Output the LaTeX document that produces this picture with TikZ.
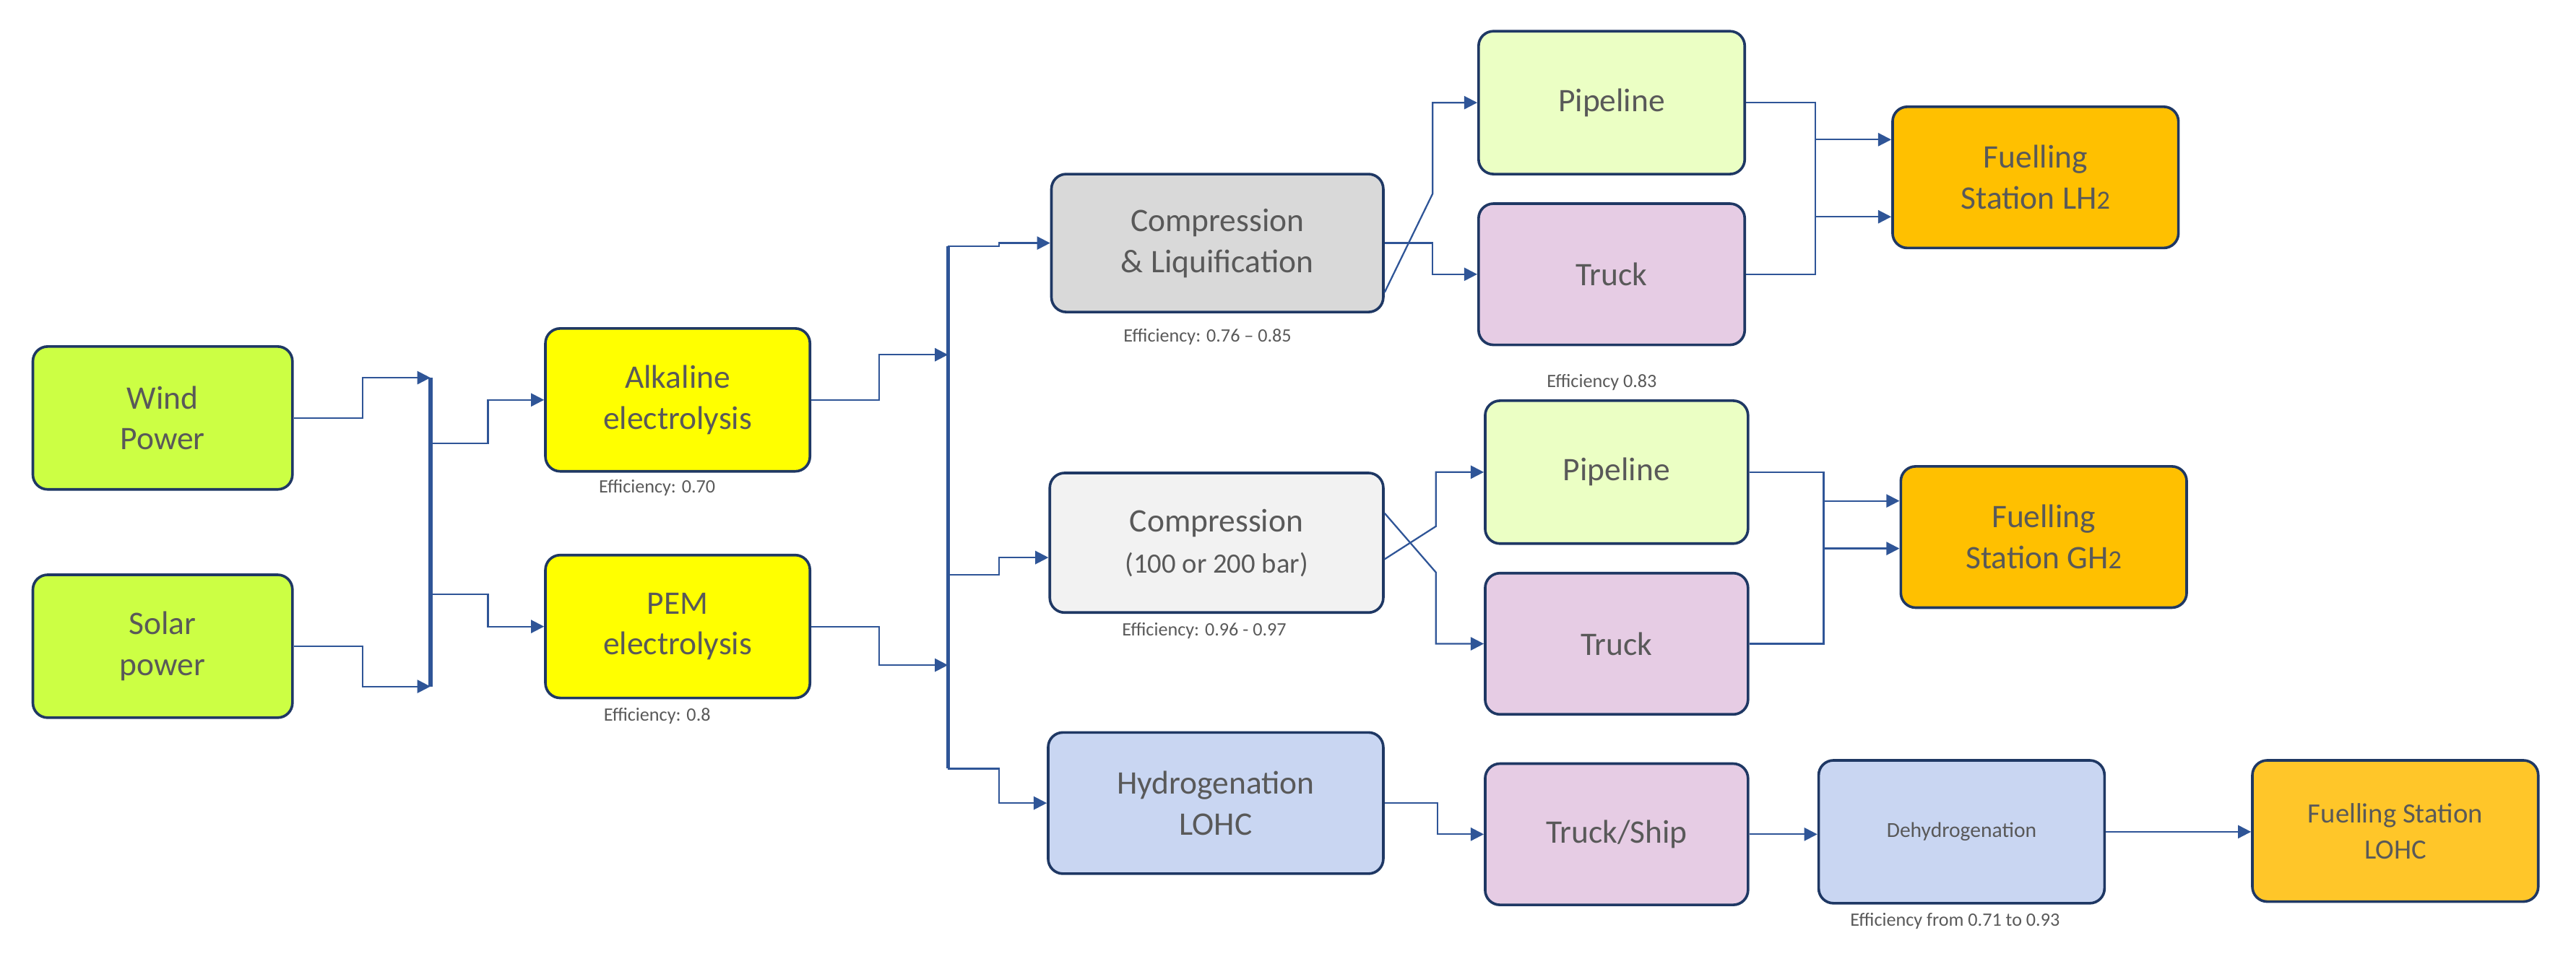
\documentclass[tikz,border=0pt]{standalone}
\usepackage{fontspec}
\setmainfont{Carlito}
\usetikzlibrary{arrows.meta}
\definecolor{bd}{HTML}{1F3864}
\definecolor{ln}{HTML}{2F5597}
\definecolor{tx}{HTML}{595959}
\begin{document}
\begin{tikzpicture}[x=1pt,y=-1pt,
  box/.style={draw=bd,line width=1.6pt,rounded corners=9pt,text=tx,align=center,font=\fontsize{20}{25}\selectfont,inner sep=0pt},
  eff/.style={text=tx,font=\fontsize{11.5}{13}\selectfont,anchor=center},
  c/.style={ln,line width=1pt,-{Triangle[length=8pt,width=8pt]}},
  cl/.style={ln,line width=1pt},
  bus/.style={ln,line width=2.4pt}]
\useasboundingbox (0,0) rectangle (1568,587);
\newcommand{\bx}[7]{\node[box,fill=#6,minimum width=#4pt,minimum height=#5pt] (#1) at (#2,#3) {#7};}
\definecolor{gr}{HTML}{CCFF44}
\definecolor{ye}{HTML}{FFFF00}
\definecolor{g1}{HTML}{D9D9D9}
\definecolor{g2}{HTML}{F2F2F2}
\definecolor{bl}{HTML}{C9D6F2}
\definecolor{pg}{HTML}{EBFFC4}
\definecolor{pk}{HTML}{E6CCE4}
\definecolor{or}{HTML}{FFC000}
\definecolor{o2}{HTML}{FFC629}
\bx{wind}{99}{254.5}{158}{87}{gr}{Wind\\Power}
\bx{solar}{99}{393.5}{158}{87}{gr}{Solar\\power}
\bx{alk}{412.5}{243.5}{161}{87}{ye}{Alkaline\\electrolysis}
\bx{pem}{412.5}{381.5}{161}{87}{ye}{PEM\\electrolysis}
\bx{cl}{741}{148}{202}{84}{g1}{Compression\\\& Liquification}
\bx{cp}{740.5}{330.5}{203}{85}{g2}{Compression\\{\fontsize{17}{25}\selectfont(100 or 200 bar)}}
\bx{hy}{740}{489}{204}{86}{bl}{Hydrogenation\\LOHC}
\bx{p1}{981}{62.5}{162}{87}{pg}{Pipeline}
\bx{t1}{981}{167}{162}{86}{pk}{Truck}
\bx{f1}{1239}{108}{174}{86}{or}{Fuelling\\Station LH{\fontsize{16}{20}\selectfont 2}}
\bx{p2}{984}{287.5}{160}{87}{pg}{Pipeline}
\bx{t2}{984}{392}{160}{86}{pk}{Truck}
\bx{f2}{1244}{327}{174}{86}{or}{Fuelling\\Station GH{\fontsize{16}{20}\selectfont 2}}
\bx{ts}{984}{508}{160}{86}{pk}{Truck/Ship}
\node[box,fill=bl,minimum width=174pt,minimum height=87pt,font=\fontsize{13}{16}\selectfont] (de) at (1194,506.5) {Dehydrogenation};
\node[box,fill=o2,minimum width=174pt,minimum height=86pt,font=\fontsize{17}{22}\selectfont] (f3) at (1458,506) {Fuelling Station\\LOHC};
\node[eff] (e1) at (400,297) {Efficiency: 0.70};
\node[eff] (e2) at (400,436) {Efficiency: 0.8};
\node[eff] (e3) at (735,205) {Efficiency: 0.76 -- 0.85};
\node[eff] (e4) at (733,384) {Efficiency: 0.96 - 0.97};
\node[eff] (e5) at (975,233) {Efficiency 0.83};
\node[eff] (e6) at (1190,561) {Efficiency from 0.71 to 0.93};
% buses
\coordinate (b1t) at (262,230); \coordinate (b1b) at (262,418);
\coordinate (b2t) at (577,150); \coordinate (b2b) at (577,468);
\draw[bus] (b1t) -- (b1b);
\draw[bus] (b2t) -- (b2b);
\coordinate (b1a) at (262,270); \coordinate (b1c) at (262,362);
\coordinate (b2a) at (577,216); \coordinate (b2c) at (577,405);
\coordinate (b2d) at (577,350);
% stage 1
\draw[c] (wind.east) -- ++(42,0) |- (b1t);
\draw[c] (solar.east) -- ++(42,0) |- (b1b);
\draw[c] (b1a) -- (297,270) |- (alk.west);
\draw[c] (b1c) -- (297,362) |- (pem.west);
\draw[c] (alk.east) -- (535,243.5) |- (b2a);
\draw[c] (pem.east) -- (535,381.5) |- (b2c);
\draw[c] (b2t) -- (608,150) |- (cl.west);
\draw[c] (b2d) -- (608,350) |- ([yshift=-9pt]cp.west);
\draw[c] (b2b) -- (608,468) |- (hy.west);
% LH2
\draw[c] ([yshift=-30pt]cl.east) -- (872,118) |- (p1.west);
\draw[c] (cl.east) -- (872,148) |- (t1.west);
\draw[c] (p1.east) -- (1105,62.5) |- ([yshift=-24pt]f1.west);
\draw[c] (t1.east) -- (1105,167) |- ([yshift=23pt]f1.west);
% GH2
\draw[c] ([yshift=-10pt]cp.east) -- (874,320.5) |- (p2.west);
\draw[c] ([yshift=18pt]cp.east) -- (874,348.5) |- (t2.west);
\draw[c] (p2.east) -- (1110,287.5) |- ([yshift=-7pt]f2.west);
\draw[c] (t2.east) -- (1110,392) |- ([yshift=22pt]f2.west);
% LOHC
\draw[c] (hy.east) -- (875,489) |- (ts.west);
\draw[c] (ts.east) -- (ts.east -| de.west);
\draw[c] (de.east) -- (de.east -| f3.west);
\end{tikzpicture}
\end{document}
